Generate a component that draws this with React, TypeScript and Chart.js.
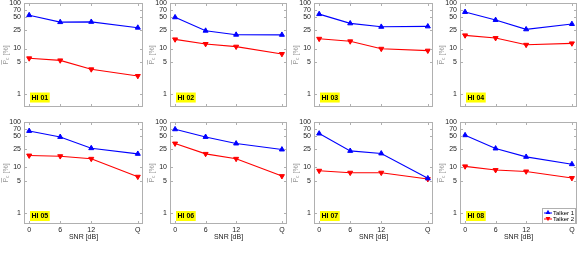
import React, { useEffect, useRef } from "react";
import { Chart, registerables } from "chart.js";
Chart.register(...registerables);

const snrLabels = ["0", "6", "12", "Q"];
const snrPositions = [0, 6, 12, 21];
const yTickValues = [1, 5, 10, 25, 50, 70, 100];
const panelNames = ["HI 01", "HI 02", "HI 03", "HI 04", "HI 05", "HI 06", "HI 07", "HI 08"];
const seriesNames = ["Talker 1", "Talker 2"];

const talker1 = [
  [54, 38, 38.5, 28.7],
  [48.5, 24.6, 20.1, 20],
  [57, 35.7, 30, 30.6],
  [63.4, 42.3, 26.4, 34.5],
  [63.4, 46.8, 26.4, 19.8],
  [69, 46.8, 33.5, 24.7],
  [55.6, 23, 20.2, 5.7],
  [51, 26, 17, 11.7],
];
const talker2 = [
  [6.1, 5.5, 3.5, 2.5],
  [15.9, 12.6, 11, 7.6],
  [16.4, 14.4, 9.9, 9.0],
  [19.5, 17, 12.1, 13],
  [18.2, 17.6, 15.4, 6.2],
  [33.5, 19.8, 15.4, 6.4],
  [8.4, 7.6, 7.6, 5.5],
  [10.5, 8.7, 8.1, 5.8],
];

const colLeft = [24, 170, 314, 460];
const colWidth = [119, 117, 119, 117];
const rowTop = [3, 122];
const rowBottom = [107, 224];
const rowMin = [0.52, 0.56];

const PAD_T = 8;
const PAD_R = 6;

const FONT = "'Liberation Sans', Arial, sans-serif";
const BLUE = "#0000ff";
const RED = "#ff0000";

function framePlugin(name: string, withLegend: boolean) {
  return {
    id: "frame",
    afterDraw(chart: any) {
      const { ctx, chartArea: a, scales } = chart;
      const ys = scales.y;
      const xs = scales.x;
      ctx.save();
      // box
      ctx.strokeStyle = "#b0b0b0";
      ctx.lineWidth = 1;
      ctx.strokeRect(a.left + 0.5, a.top + 0.5, a.width - 1, a.height - 1);
      // inner ticks
      ctx.beginPath();
      yTickValues.forEach((v) => {
        const y = Math.round(ys.getPixelForValue(v)) + 0.5;
        ctx.moveTo(a.left, y);
        ctx.lineTo(a.left + 3, y);
        ctx.moveTo(a.right, y);
        ctx.lineTo(a.right - 3, y);
      });
      snrPositions.forEach((v) => {
        const x = Math.round(xs.getPixelForValue(v)) + 0.5;
        ctx.moveTo(x, a.bottom);
        ctx.lineTo(x, a.bottom - 3);
        ctx.moveTo(x, a.top);
        ctx.lineTo(x, a.top + 3);
      });
      ctx.stroke();

      // HI label
      ctx.font = `bold 7px ${FONT}`;
      const tw = ctx.measureText(name).width;
      const cy = ys.getPixelForValue(0.84);
      const bx = a.left + 6;
      ctx.fillStyle = "#ffff00";
      ctx.fillRect(bx, cy - 5, tw + 3, 10);
      ctx.fillStyle = "#000";
      ctx.textBaseline = "middle";
      ctx.textAlign = "left";
      ctx.fillText(name, bx + 1.5, cy + 0.5);

      // y title
      ctx.save();
      const midY = (a.top + a.bottom) / 2;
      ctx.translate(a.left - 18, midY);
      ctx.rotate(-Math.PI / 2);
      ctx.fillStyle = "#9a9a9a";
      ctx.strokeStyle = "#9a9a9a";
      ctx.textBaseline = "middle";
      ctx.font = `7px ${FONT}`;
      const wP = ctx.measureText("P").width;
      const rest = " [%]";
      const wR = ctx.measureText(rest).width;
      ctx.font = `5px ${FONT}`;
      const wc = ctx.measureText("c").width;
      const total = wP + wc + wR;
      let x0 = -total / 2;
      ctx.font = `7px ${FONT}`;
      ctx.fillText("P", x0, 0);
      ctx.beginPath();
      ctx.lineWidth = 0.7;
      ctx.moveTo(x0, -4.5);
      ctx.lineTo(x0 + wP, -4.5);
      ctx.stroke();
      x0 += wP;
      ctx.font = `5px ${FONT}`;
      ctx.fillText("c", x0, 2);
      x0 += wc;
      ctx.font = `7px ${FONT}`;
      ctx.fillText(rest, x0, 0);
      ctx.restore();

      // legend
      if (withLegend) {
        const lx = a.right - 35;
        const ly = a.bottom - 16;
        ctx.fillStyle = "#fff";
        ctx.fillRect(lx, ly, 33, 15);
        ctx.strokeStyle = "#b0b0b0";
        ctx.lineWidth = 1;
        ctx.strokeRect(lx + 0.5, ly + 0.5, 33, 15);
        const rows = [ly + 4.5, ly + 10.5];
        const cols = [BLUE, RED];
        rows.forEach((ry, k) => {
          const mx = lx + 6;
          ctx.fillStyle = cols[k];
          ctx.beginPath();
          const r = 2.8;
          const dir = k === 0 ? 1 : -1;
          ctx.moveTo(mx, ry - dir * r);
          ctx.lineTo(mx + r * 0.87, ry + dir * r * 0.5);
          ctx.lineTo(mx - r * 0.87, ry + dir * r * 0.5);
          ctx.closePath();
          ctx.fill();
          ctx.strokeStyle = cols[k];
          ctx.beginPath();
          ctx.moveTo(mx - 4, ry + 0.5);
          ctx.lineTo(mx + 4, ry + 0.5);
          ctx.stroke();
          ctx.fillStyle = "#000";
          ctx.font = `6px ${FONT}`;
          ctx.textAlign = "left";
          ctx.textBaseline = "middle";
          ctx.fillText(seriesNames[k], lx + 11, ry + 0.5);
        });
      }
      ctx.restore();
    },
  };
}

export default function App() {
  const refs = useRef<(HTMLCanvasElement | null)[]>([]);

  useEffect(() => {
    const charts: Chart[] = [];
    panelNames.forEach((name, i) => {
      const canvas = refs.current[i];
      if (!canvas) return;
      const row = Math.floor(i / 4);
      const isBottom = row === 1;
      const tickFont = { family: FONT, size: 7 };
      charts.push(
        new Chart(canvas, {
          type: "line",
          data: {
            datasets: [
              {
                label: seriesNames[0],
                data: snrPositions.map((x, k) => ({ x, y: talker1[i][k] })),
                borderColor: BLUE,
                backgroundColor: BLUE,
                pointStyle: "triangle",
                pointRadius: 2.9,
                pointBorderWidth: 1,
                borderWidth: 1.1,
              },
              {
                label: seriesNames[1],
                data: snrPositions.map((x, k) => ({ x, y: talker2[i][k] })),
                borderColor: RED,
                backgroundColor: RED,
                pointStyle: "triangle",
                pointRotation: 180,
                pointRadius: 2.9,
                pointBorderWidth: 1,
                borderWidth: 1.1,
              },
            ],
          },
          options: {
            responsive: false,
            maintainAspectRatio: false,
            animation: false,
            layout: { padding: { left: 0, top: PAD_T, right: PAD_R, bottom: isBottom ? 10 : 8 } },
            plugins: { legend: { display: false }, tooltip: { enabled: false } },
            scales: {
              x: {
                type: "linear",
                min: -1,
                max: 22,
                afterBuildTicks: (s: any) => {
                  s.ticks = snrPositions.map((v) => ({ value: v }));
                },
                afterFit: (s: any) => {
                  s.height = isBottom ? 20 : 0;
                },
                grid: { display: false, drawTicks: false },
                border: { display: false },
                ticks: {
                  display: isBottom,
                  font: tickFont,
                  color: "#222",
                  padding: 2,
                  maxRotation: 0,
                  autoSkip: false,
                  callback: (v: any) => {
                    const idx = snrPositions.indexOf(Number(v));
                    return idx >= 0 ? snrLabels[idx] : "";
                  },
                },
                title: {
                  display: isBottom,
                  text: "SNR [dB]",
                  font: tickFont,
                  color: "#222",
                  padding: { top: 0, bottom: 3 },
                },
              } as any,
              y: {
                type: "logarithmic",
                min: rowMin[row],
                max: 100,
                afterBuildTicks: (s: any) => {
                  s.ticks = yTickValues.map((v) => ({ value: v }));
                },
                afterFit: (s: any) => {
                  s.width = 24;
                },
                grid: { display: false, drawTicks: false },
                border: { display: false },
                ticks: {
                  font: tickFont,
                  color: "#222",
                  padding: 3,
                  autoSkip: false,
                  callback: (v: any) => String(v),
                },
              } as any,
            },
          },
          plugins: [framePlugin(name, i === 7)],
        } as any)
      );
    });
    return () => charts.forEach((c) => c.destroy());
  }, []);

  return (
    <div
      style={{
        position: "fixed",
        left: 0,
        top: 0,
        width: 582,
        height: 253,
        background: "#fff",
        overflow: "hidden",
      }}
    >
      {panelNames.map((name, i) => {
        const row = Math.floor(i / 4);
        const col = i % 4;
        const left = colLeft[col] - 24;
        const top = rowTop[row] - PAD_T;
        const w = 24 + colWidth[col] + PAD_R;
        const h = PAD_T + (rowBottom[row] - rowTop[row]) + (row === 1 ? 30 : 8);
        return (
          <canvas
            key={name}
            ref={(el) => {
              refs.current[i] = el;
            }}
            width={w}
            height={h}
            style={{ position: "absolute", left, top, width: w, height: h }}
          />
        );
      })}
    </div>
  );
}
